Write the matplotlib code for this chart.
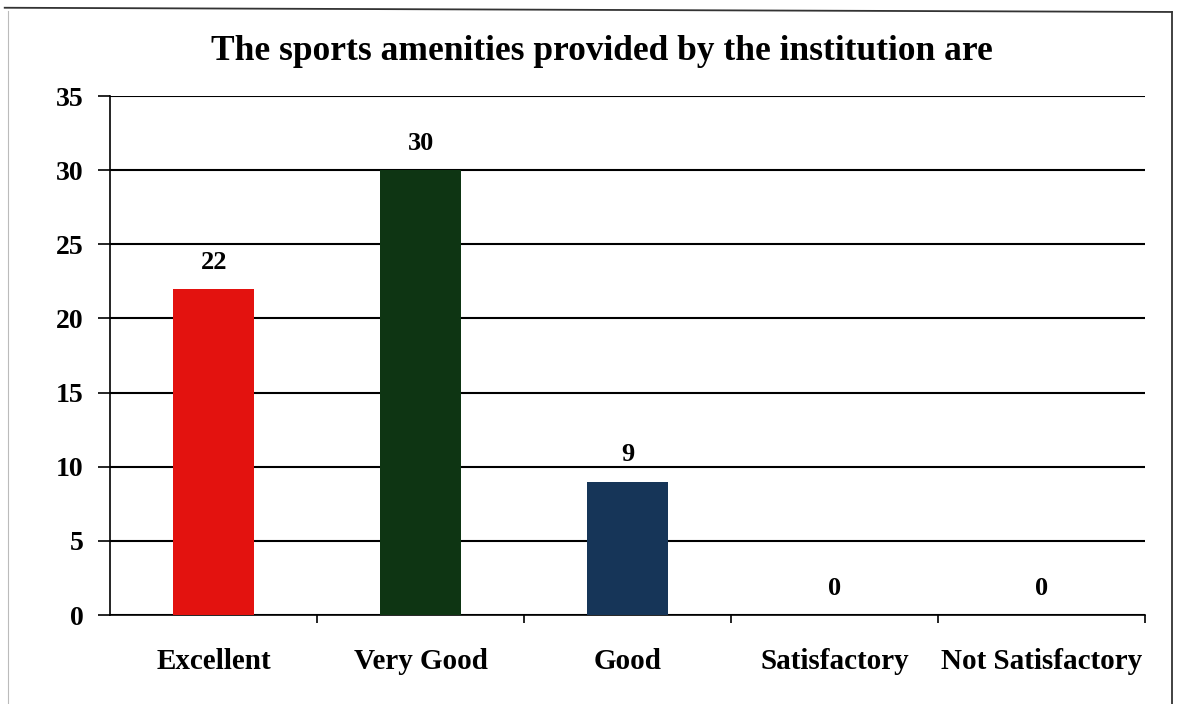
import matplotlib.pyplot as plt
from matplotlib.lines import Line2D

categories = ["Excellent", "Very Good", "Good", "Satisfactory", "Not Satisfactory"]
values = [22, 30, 9, 0, 0]
bar_colors = ["#E3120F", "#0E3513", "#163558", "#163558", "#163558"]
y_ticks = [0, 5, 10, 15, 20, 25, 30, 35]
title = "The sports amenities provided by the institution are"

plt.rcParams["font.family"] = ["Liberation Serif", "DejaVu Serif"]
plt.rcParams["font.weight"] = "bold"

fig = plt.figure(figsize=(11.79, 7.04), dpi=100)
ax = fig.add_axes([0.0935, 0.1264, 0.8779, 0.7372])

x = list(range(len(categories)))
ax.bar(x, values, width=0.39, color=bar_colors, zorder=3)

for xi, v in zip(x, values):
    ax.annotate(f"{v}", (xi, v), xytext=(0, 11), textcoords="offset points",
                ha="center", va="bottom", fontsize=19, fontweight="bold")

ax.set_xlim(-0.5, len(categories) - 0.5)
ax.set_ylim(0, 35)
ax.set_yticks(y_ticks)
ax.set_yticklabels([str(t) for t in y_ticks], fontsize=20, fontweight="bold")
ax.tick_params(axis="y", length=9, width=1.2, pad=10, color="black")

# category names centred under bars, ticks at the category boundaries
ax.set_xticks(x)
ax.set_xticklabels(categories, fontsize=21, fontweight="bold")
ax.tick_params(axis="x", which="major", length=0, pad=24)
ax.set_xticks([i + 0.5 for i in x], minor=True)
ax.tick_params(axis="x", which="minor", length=6, width=1.2, color="black")

ax.yaxis.grid(True, color="black", linewidth=1.5, zorder=0)
ax.set_axisbelow(True)
for side in ("top", "right"):
    ax.spines[side].set_visible(False)
ax.spines["left"].set_linewidth(1.2)
ax.spines["bottom"].set_linewidth(1.2)

fig.text(0.5106, 0.927, title, ha="center", va="center", fontsize=25.5, fontweight="bold")

# outer chart frame
fig.add_artist(Line2D([0.004, 0.994], [0.989, 0.983], transform=fig.transFigure,
                      color="#333333", linewidth=1.3))
fig.add_artist(Line2D([0.994, 0.994], [0.983, 0.0], transform=fig.transFigure,
                      color="#333333", linewidth=1.3))
fig.add_artist(Line2D([0.007, 0.007], [0.985, 0.0], transform=fig.transFigure,
                      color="#BBBBBB", linewidth=0.8))

fig.savefig("out.png", dpi=100)
